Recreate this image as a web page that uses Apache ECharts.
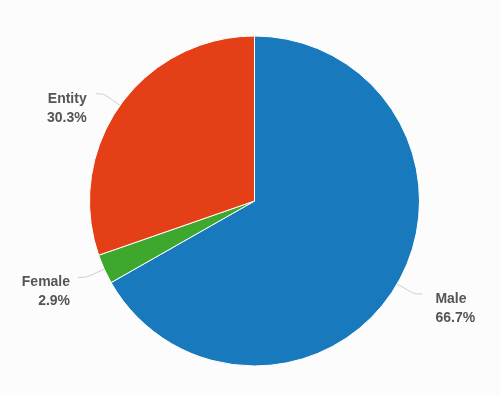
<!DOCTYPE html>
<html>
<head>
<meta charset="utf-8">
<script src="https://cdn.jsdelivr.net/npm/echarts@6/dist/echarts.min.js"></script>
<style>
html,body{margin:0;padding:0;background:#fcfcfc;}
#c{width:500px;height:395px;}
</style>
</head>
<body>
<div id="c"></div>
<script>
var categories = ['Male', 'Female', 'Entity'];
var values = [66.7, 2.9, 30.3];
var colors = ['#1879bd', '#3ea72d', '#e53f17'];

var labelGap = { Male: 13, Female: 8, Entity: 9 };

var data = categories.map(function (name, i) {
  return {
    name: name,
    value: values[i],
    itemStyle: { color: colors[i] },
    label: { distanceToLabelLine: labelGap[name] }
  };
});

var chart = echarts.init(document.getElementById('c'), null, { renderer: 'canvas' });
chart.setOption({
  backgroundColor: '#fcfcfc',
  animation: false,
  series: [{
    type: 'pie',
    center: [254.5, 201],
    radius: 165,
    startAngle: 90,
    clockwise: true,
    avoidLabelOverlap: false,
    data: data,
    itemStyle: { borderColor: '#ffffff', borderWidth: 1 },
    label: {
      show: true,
      position: 'outside',
      formatter: '{a|{b}}\n{a|{c}%}',
      distanceToLabelLine: 10,
      padding: [29, 0, 0, 0],
      rich: {
        a: {
          fontFamily: 'Liberation Sans, Arial, sans-serif',
          fontSize: 14,
          fontWeight: 'bold',
          color: '#555555',
          lineHeight: 19
        }
      }
    },
    labelLine: {
      show: true,
      length: 20,
      length2: 8,
      smooth: 0.3,
      lineStyle: { color: '#cccccc', width: 1 }
    },
    emphasis: { disabled: true }
  }]
});
</script>
</body>
</html>
